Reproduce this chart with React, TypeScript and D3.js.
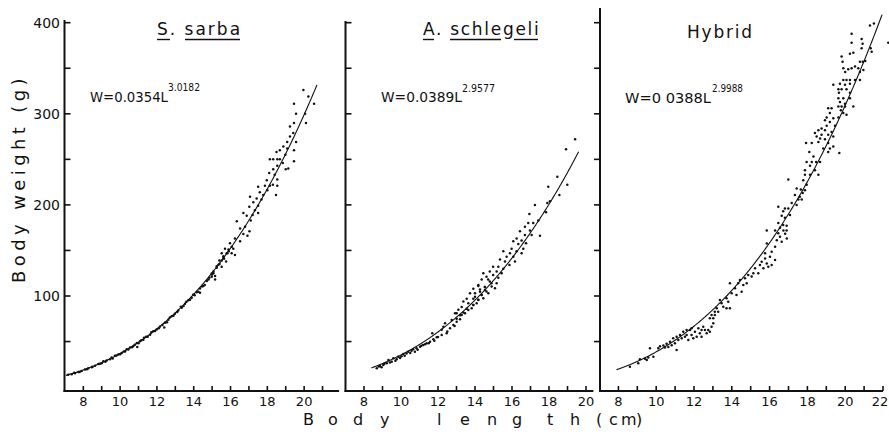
import React from "react";
import * as d3 from "d3";

// ---------- data ----------
const sarbaPoints: [number, number][] = [
  [19.96,326],[20.23,319],[20.54,311],[19.45,311],[19.56,300],[20.05,300],[20.10,290],[19.45,290],[19.23,286],[19.41,279],
  [19.23,275],[19.08,269],[19.56,269],[18.87,264],[19.08,262],[18.68,260],[18.5,258],[19.45,260],[18.98,255],[18.14,250],
  [18.32,250],[18.54,250],[18.68,250],[19.45,248],[18.84,246],[19.14,240],[19.0,239],[18.54,243],[18.32,239],[18.1,235],
  [18.4,233],[18.54,228],[17.97,227],[18.14,221],[17.87,221],[18.0,216],[18.3,222],[18.54,221],[17.5,220],[17.59,214],
  [17.78,211],[18.47,211],[17.42,207],[17.68,206],[17.06,209],[17.24,203],[17.5,199],[17.02,198],[17.32,194],[16.70,191],
  [17.2,189],[16.88,188],[17.5,191],[17.10,183],[16.34,182],[16.79,176],[16.52,174],[17.03,171],[16.7,168],[16.24,163],
  [16.52,160],[16.92,166],[15.97,158],[16.15,152],[15.70,152],[15.52,147],[15.83,147],[16.06,147],[16.24,145],[15.61,142],
  [15.39,139],[15.76,138],[15.52,132],[15.25,131],[15.07,125],[14.98,121],[15.16,118],
  [7.18,13.5],[7.37,14.2],[7.55,15.3],[7.73,16.6],[7.91,17.8],[8.09,19.3],[8.27,20.6],[8.46,21.9],[8.64,23.5],[8.82,25.4],
  [9.0,26.2],[9.09,28.3],[9.27,29.2],[9.45,30.6],[9.54,32.4],[9.72,34.3],[9.90,35.8],[10.09,37.4],[10.27,39.1],[10.36,41.6],
  [10.54,43.5],[10.72,45.2],[10.91,48.3],[10.93,44.1],[11.08,50.2],[11.26,52.1],[11.41,55.2],[11.63,57.6],[11.8,61.2],[11.99,63.1],
  [12.17,66.4],[12.44,70.5],[12.40,65.4],[12.62,74.0],[12.8,77.8],[12.98,80.5],[13.16,84.1],[13.35,87.0],[13.53,91.6],[13.71,95.3],
  [13.89,98.1],[13.98,101.6],[14.16,104.2],[14.34,108.1],[14.52,111],[14.34,103.6],[14.71,116.6],[14.85,120.1],[14.98,124.6],[15.07,127],
  [15.16,122],[15.25,132.7],[15.34,134.4],[15.52,139],[15.61,143.6],[15.79,147],[15.89,151],[16.07,154],
  [7.5,15.8],[7.8,16.6],[8.2,19.5],[8.5,22.3],[8.9,25.6],[9.2,27.8],[9.6,31.5],[9.8,34.6],[10.0,36.1],[10.2,39.2],[10.45,41.2],
  [10.65,43.8],[10.8,46.6],[11.0,48.1],[11.15,51.5],[11.3,54.1],[11.5,55.2],[11.7,60.1],[11.9,61.5],[12.1,64.6],[12.3,68.2],[12.55,71.2],
  [12.7,76.5],[12.9,78.3],[13.1,82.4],[13.3,88.2],[13.45,89],[13.6,93.6],[13.8,96],[14.05,100.8],[14.25,104.8],[14.45,110.4],[14.6,112.1],
  [14.8,118],[15.0,123.5],[15.4,135],[15.65,141],[15.9,149]
];

const schlegeliPoints: [number, number][] = [
  [19.41,272],[18.92,261],[18.45,231],[18.99,222],[17.96,220],[18.56,211],[17.91,202],[18.05,204],[17.84,192],[17.24,200],
  [16.94,190],[17.42,183],[17.15,180],[16.88,180],[16.70,176],[16.97,172],[16.43,171],[16.70,167],[17.06,167],[17.51,166],
  [16.25,163],[16.52,161],[16.76,158],[16.07,160],[16.34,157],[16.61,152],[15.98,152],[16.25,149],[16.52,147],[15.89,147],
  [15.53,149],[15.71,143],[16.07,143],[16.16,138],[15.62,138],[15.35,140],[15.86,134],[15.26,132],[15.53,130],[14.98,132],
  [15.17,127],[15.44,125],[14.80,127],[14.98,123],[14.45,125],[14.62,121],[15.26,120],[14.71,118],[14.36,118],[14.89,114],
  [14.18,112],[14.53,110],[13.91,108],[14.27,107],[14.62,105],[14.0,103],[13.73,103],[14.36,101],[13.55,97],[13.91,97],
  [14.18,96],[13.37,94],[13.64,92],[13.91,90],[13.28,88],[13.55,86],[13.1,85],[13.37,82],[12.92,81],[13.19,79],[13.01,75],
  [8.69,20.6],[8.86,23.2],[9.04,24.3],[8.95,21.7],[9.23,26.1],[9.32,29.7],[9.50,27.9],[9.59,31.6],[9.77,30.5],[9.85,33.4],
  [10.03,34],[10.12,36.3],[10.30,37],[10.39,38.9],[10.57,40],[10.66,41.5],[10.75,38.9],[10.84,42.6],[11.03,44.3],[11.2,46.2],
  [11.39,48.1],[11.57,49.9],[11.75,52.5],[11.69,59],[11.93,54.7],[12.2,57.2],[12.29,66.3],[12.38,70],[12.2,63],[12.47,59],
  [12.65,64.5],[12.83,68.2],[13.01,71.8],[12.74,73.6],[13.19,74.4],[13.28,79.1],[13.01,81],[13.46,81],[13.64,84.6],[13.82,86.5],
  [13.91,90.1],[14.09,92],[14.0,99.2],[14.18,95.6],[14.36,101.1],[14.27,104.7],[14.45,97.5],[14.54,106.6],[14.72,103],[14.9,110.3],
  [15.08,108.5],[15.17,114],[14.8,116],[14.18,111],[14.54,110],
  [8.8,22.5],[9.1,25.5],[9.4,27],[9.7,29],[9.95,32],[10.2,34.5],[10.5,37.5],[10.9,41],[11.1,45.5],[11.3,47],[11.5,48],
  [11.8,51],[12.0,55],[12.5,61],[12.9,67]
];

const hybridPoints: [number, number][] = [
  [21.31,397],[21.52,399],[22.28,378],[20.34,388],[20.87,382],[20.92,377],[20.34,378],[20.87,372],[21.35,372],[21.4,368],
  [20.43,367],[20.25,366],[20.93,357],[21.06,358],[20.78,357],[19.81,363],[19.86,357],[19.9,350],[20.16,349],[20.34,350],
  [20.52,352],[20.69,350],[20.96,348],[20.78,346],[20.0,346],[19.9,337],[20.07,337],[20.25,337],[20.52,337],[20.78,337],
  [19.37,332],[19.72,333],[19.99,332],[20.25,333],[19.64,327],[19.81,327],[20.07,327],[19.67,323],[20.25,323],[19.64,317],
  [19.9,317],[20.25,317],[19.72,313],[19.99,311],[19.64,308],[19.81,308],[19.99,308],[20.43,308],[19.1,306],[19.28,306],
  [19.77,304],[19.9,301],[20.07,299],[19.19,301],[19.02,296],[19.37,295],[19.64,296],[19.19,291],[18.93,293],[19.02,287],
  [19.46,287],[18.58,282],[18.75,284],[18.93,282],[19.28,280],[18.4,279],[18.49,275],[18.75,277],[19.1,277],[18.67,273],
  [18.93,272],[19.37,275],[18.58,269],[19.1,268],[19.37,264],[18.23,268],[18.84,262],[19.19,262],[19.1,258],[19.69,257],
  [18.1,258],[17.93,268],[18.32,253],[17.96,247],[18.23,247],[18.46,247],[18.67,247],[18.14,243],[17.87,238],[18.4,238],
  [18.14,233],[18.58,233],[17.87,233],[16.99,228],[17.78,227],[17.96,222],[17.43,218],[17.65,217],[17.87,216],[17.75,213],
  [17.34,211],[17.6,209],[17.52,206],[17.7,206],[17.17,202],[17.43,200],[16.46,198],[16.81,196],[16.99,196],[16.72,193],
  [17.08,189],[16.64,188],[16.81,186],[16.46,180],[16.72,178],[16.9,177],[16.55,175],[16.29,172],[15.85,172],[16.46,169],[16.9,172],
  [8.61,22.4],[9.05,26.1],[9.14,30.5],[9.50,29.7],[9.58,32.4],[9.41,31],[9.67,42.6],[9.85,33.4],[10.11,42.6],[10.20,44.8],
  [10.38,45.7],[10.46,43.5],[10.55,47.6],[10.64,44],[10.73,49.9],[10.82,46],[10.9,53.6],[10.99,48.1],[11.08,40.7],[11.08,55.3],
  [11.17,51.7],[11.26,57.2],[11.35,53.6],[11.43,60.8],[11.52,55.3],[11.61,62.7],[11.61,57.2],[11.7,51.7],[11.79,62.7],[11.87,57.2],
  [11.87,64.5],[11.96,53.6],[12.05,60.8],[12.14,55.3],[12.23,64.5],[12.31,59],[12.4,62.7],[12.49,66.3],[12.58,62.7],[12.4,55.3],
  [12.67,59],[12.75,62.7],[12.84,60.8],[12.93,66.3],[12.84,75.5],[12.93,79.1],[13.02,75.5],[13.02,70],[13.1,79.1],[13.1,82.8],
  [13.2,86.5],[13.28,82.8],[13.46,92],[13.37,95.6],[13.55,88.3],[13.72,86.5],[13.81,93.8],[13.9,86.5],[13.72,97.5],[13.99,103],
  [13.9,114],[14.17,108.5],[14.25,101],[14.34,114],[14.43,117.6],[14.52,104.7],[14.61,112],[14.7,119.5],[14.79,114],[14.87,123],
  [15.05,121.3],[15.14,125],[15.23,130.4],[15.4,125],[15.49,134],[15.58,137.6],[15.67,130.4],[15.76,141.3],[15.76,146.8],[15.85,135.8],
  [15.93,132],[16.02,143],[16.11,148.6],[15.85,157.7],[16.11,134],[16.29,139.5],[16.29,154],[16.38,161.3],[16.55,165],[16.64,159.6],
  [16.82,168.4],[16.73,172],[16.91,163]
];

const sarbaFit = { a: 0.0354, b: 3.0182, from: 7.05, to: 20.7 };
const schlegeliFit = { a: 0.0389, b: 2.9577, from: 8.4, to: 19.6 };
const hybridFit = { a: 0.0388, b: 2.9988, from: 7.9, to: 21.95 };

const yTickValues = [50, 100, 150, 200, 250, 300, 350, 400];
const yTickLabels = [100, 200, 300, 400];
const xLabelEvery = 2;

// ---------- layout ----------
const W = 889, H = 437;
const FONT = "DejaVu Sans";
const y = d3.scaleLinear().domain([0, 400]).range([387.1, 22.7]);

const panels = [
  {
    key: "sarba", points: sarbaPoints, fit: sarbaFit,
    x: d3.scaleLinear().domain([7, 21.9]).range([64.9, 339.1]),
    axisX: 64.5, axisTop: 20, xMax: 21, tickDir: 1,
    eq: { main: "W=0.0354L", sup: "3.0182", x: 90, mainLen: 78, supX: 168, supLen: 32, base: 102, supBase: 91 },
  },
  {
    key: "schlegeli", points: schlegeliPoints, fit: schlegeliFit,
    x: d3.scaleLinear().domain([7, 20.4]).range([345.5, 593.4]),
    axisX: 345.5, axisTop: 21, xMax: 20, tickDir: 1,
    eq: { main: "W=0.0389L", sup: "2.9577", x: 381, mainLen: 81, supX: 462, supLen: 33, base: 102, supBase: 92 },
  },
  {
    key: "hybrid", points: hybridPoints, fit: hybridFit,
    x: d3.scaleLinear().domain([7, 22]).range([599.5, 883]),
    axisX: 600, axisTop: 8, xMax: 22, tickDir: -1,
    eq: { main: "W=0 0388L", sup: "2.9988", x: 625, mainLen: 86, supX: 712, supLen: 31, base: 103, supBase: 92 },
  },
];

const AXIS_Y = 391;

export default function App() {
  return (
    <svg width={W} height={H} viewBox={`0 0 ${W} ${H}`} style={{ display: "block", position: "absolute", left: 0, top: 0, background: "#fff" }}>
      <rect x={0} y={0} width={W} height={H} fill="#fff" />
      {panels.map((p) => {
        const xs = d3.range(8, p.xMax + 1);
        const line = d3.line<number>()
          .x((L) => p.x(L))
          .y((L) => y(p.fit.a * Math.pow(L, p.fit.b)));
        const curveLs = d3.range(p.fit.from, p.fit.to, 0.05).concat([p.fit.to]);
        const [, x1] = p.x.range();
        return (
          <g key={p.key}>
            {/* axes */}
            <line x1={p.axisX} x2={p.axisX} y1={p.axisTop} y2={AXIS_Y + 1} stroke="#111" strokeWidth={2} />
            <line x1={p.axisX - 1} x2={x1} y1={AXIS_Y} y2={AXIS_Y} stroke="#111" strokeWidth={2} />
            {yTickValues.map((v) => (
              <line key={v} x1={p.axisX} x2={p.axisX + 6 * p.tickDir} y1={y(v)} y2={y(v)} stroke="#111" strokeWidth={1.6} />
            ))}
            {xs.map((v) => (
              <line key={v} x1={p.x(v)} x2={p.x(v)} y1={AXIS_Y} y2={AXIS_Y - 5} stroke="#111" strokeWidth={1.6} />
            ))}
            {xs.filter((v) => v % xLabelEvery === 0).map((v) => (
              <text key={v} x={Math.min(p.x(v), W - 9)} y={405.5} textAnchor="middle" fontFamily={FONT} fontSize={13} fill="#111">{v}</text>
            ))}
            {/* fitted curve */}
            <path d={line(curveLs) || ""} fill="none" stroke="#111" strokeWidth={1.1} />
            {/* points */}
            {p.points.map(([L, Wt], i) => (
              <circle key={i} cx={p.x(L)} cy={y(Wt)} r={1.25} fill="#111" />
            ))}
            {/* equation */}
            <text x={p.eq.x} y={p.eq.base} fontFamily={FONT} fontSize={13.5} fill="#111" textLength={p.eq.mainLen} lengthAdjust="spacingAndGlyphs">{p.eq.main}</text>
            <text x={p.eq.supX} y={p.eq.supBase} fontFamily={FONT} fontSize={10.5} fill="#111" textLength={p.eq.supLen} lengthAdjust="spacingAndGlyphs">{p.eq.sup}</text>
          </g>
        );
      })}

      {/* y tick labels (left panel only) */}
      {yTickLabels.map((v) => (
        <text key={v} x={60} y={y(v)} dy="0.36em" textAnchor="end" fontFamily={FONT} fontSize={14} fill="#111">{v}</text>
      ))}

      {/* titles */}
      <text x={157} y={35} fontFamily={FONT} fontSize={17} letterSpacing={2} fill="#111">S. sarba</text>
      <line x1={157} x2={170} y1={39.5} y2={39.5} stroke="#111" strokeWidth={1.4} />
      <line x1={185} x2={240} y1={39.5} y2={39.5} stroke="#111" strokeWidth={1.4} />
      <text x={423} y={35} fontFamily={FONT} fontSize={17} letterSpacing={1.7} fill="#111">A. schlegeli</text>
      <line x1={423} x2={434} y1={39.5} y2={39.5} stroke="#111" strokeWidth={1.4} />
      <line x1={450} x2={501} y1={39.5} y2={39.5} stroke="#111" strokeWidth={1.4} />
      <line x1={514} x2={538} y1={39.5} y2={39.5} stroke="#111" strokeWidth={1.4} />
      <text x={687} y={38} fontFamily={FONT} fontSize={17} letterSpacing={1.8} fill="#111">Hybrid</text>

      {/* axis titles */}
      <text transform="rotate(-90)" x={-283} y={25} fontFamily={FONT} fontSize={18} letterSpacing={4.4} fill="#111">Body weight (g)</text>
      <text y={425} fontFamily={FONT} fontSize={16} fill="#111"
        x="303 328 353 380 398 437 460 487 512 547 570 596 609 621 636">{"Body length(cm)"}</text>
    </svg>
  );
}
